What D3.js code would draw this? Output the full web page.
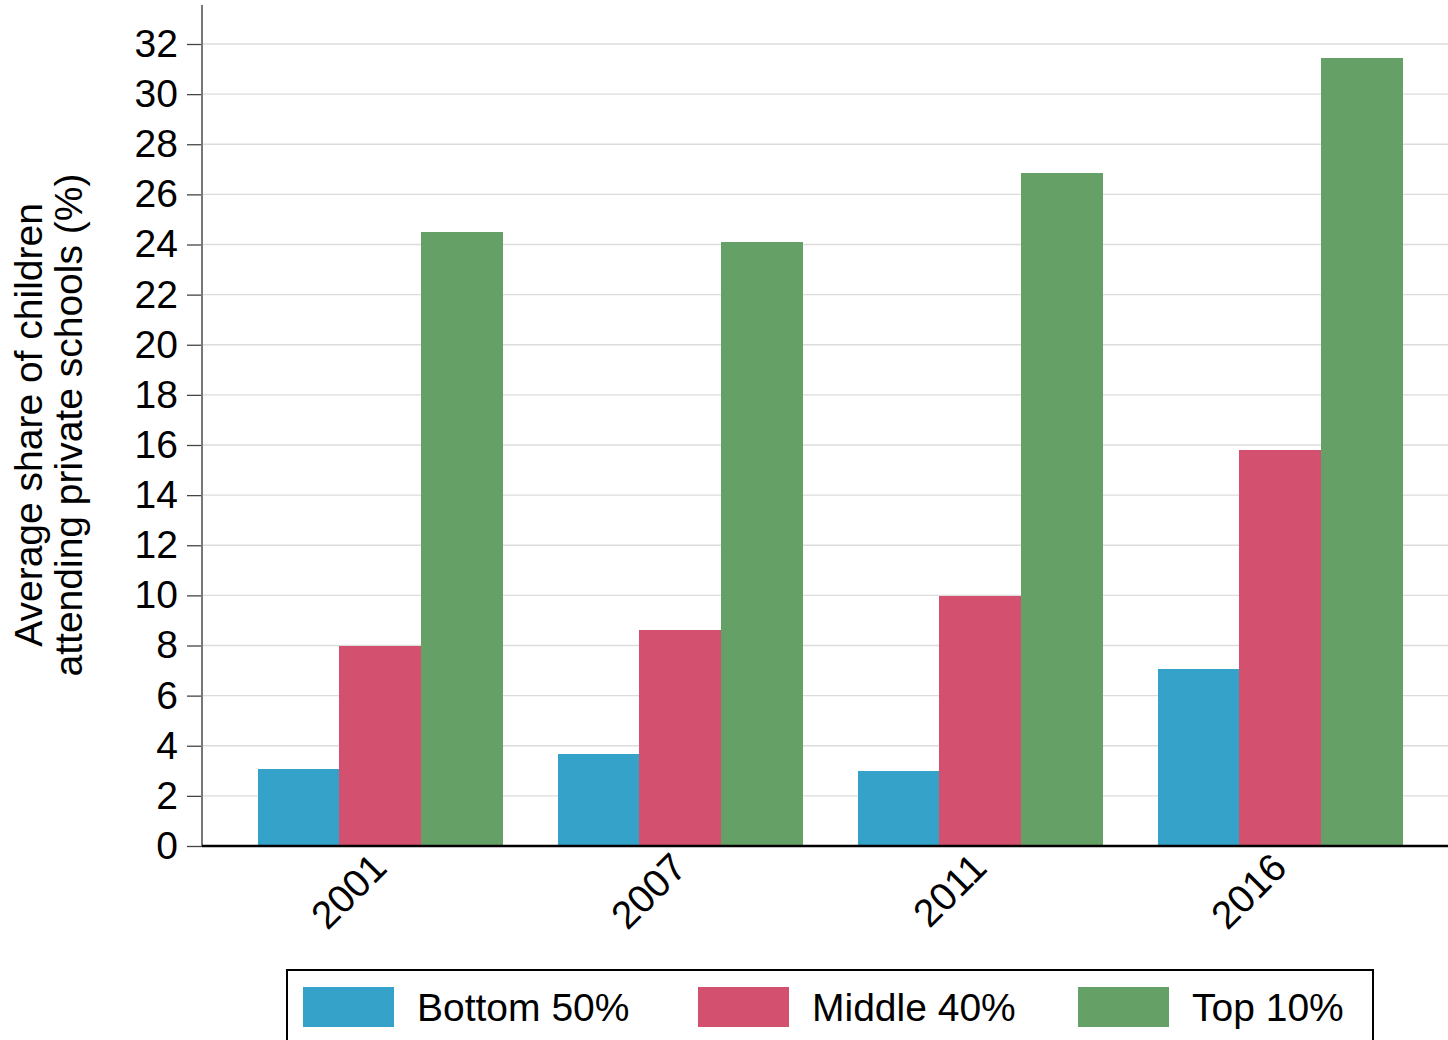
<!DOCTYPE html>
<html>
<head>
<meta charset="utf-8">
<script src="https://cdn.jsdelivr.net/npm/d3@7"></script>
<style>
  html, body { margin: 0; padding: 0; background: #fff; }
  svg { display: block; font-family: "Liberation Sans", Arial, sans-serif; }
</style>
</head>
<body>
<svg id="chart" width="1448" height="1040"></svg>
<script>
const years = ["2001", "2007", "2011", "2016"];
const seriesNames = ["Bottom 50%", "Middle 40%", "Top 10%"];
const bottom50 = [3.07, 3.67, 3.0, 7.06];
const middle40 = [7.98, 8.62, 9.99, 15.8];
const top10 = [24.5, 24.1, 26.86, 31.44];
const yTicks = [0, 2, 4, 6, 8, 10, 12, 14, 16, 18, 20, 22, 24, 26, 28, 30, 32];
const colors = ["#35a2c9", "#d3506e", "#65a066"];

const seriesValues = [bottom50, middle40, top10];
const data = years.map((y, i) => ({
  year: y,
  values: seriesNames.map((s, j) => ({ key: s, value: seriesValues[j][i], color: colors[j] }))
}));

const svg = d3.select("#chart");
const plotLeft = 202, plotRight = 1448, plotTop = 5, plotBottom = 846;
const FS = 39;

const y = d3.scaleLinear().domain([0, 32]).range([plotBottom, 44]);
const x0 = d3.scaleBand().domain(years).range([229, 1429]).padding(0);
const x1 = d3.scaleBand().domain(seriesNames).range([28.5, 273.5]).padding(0);

// gridlines
svg.append("g")
  .selectAll("line")
  .data(yTicks.filter(d => d > 0))
  .join("line")
  .attr("x1", plotLeft).attr("x2", plotRight)
  .attr("y1", d => y(d)).attr("y2", d => y(d))
  .attr("stroke", "#dcdcdc").attr("stroke-width", 1.3);

// bars
const groups = svg.append("g")
  .selectAll("g")
  .data(data)
  .join("g")
  .attr("transform", d => `translate(${x0(d.year)},0)`);

groups.selectAll("rect")
  .data(d => d.values)
  .join("rect")
  .attr("x", d => x1(d.key))
  .attr("width", x1.bandwidth())
  .attr("y", d => y(d.value))
  .attr("height", d => plotBottom - y(d.value))
  .attr("fill", d => d.color)
  .attr("shape-rendering", "crispEdges");

// y axis
const yAxis = d3.axisLeft(y).tickValues(yTicks).tickSize(15).tickPadding(9);
const yg = svg.append("g").attr("transform", `translate(${plotLeft},0)`).call(yAxis);
yg.select(".domain").remove();
yg.selectAll(".tick line").attr("stroke", "#444").attr("stroke-width", 1.3);
yg.selectAll(".tick text").attr("font-size", FS).attr("fill", "#000")
  .attr("font-family", "Liberation Sans, Arial, sans-serif");
svg.append("line")
  .attr("x1", plotLeft).attr("x2", plotLeft)
  .attr("y1", plotTop).attr("y2", plotBottom)
  .attr("stroke", "#777").attr("stroke-width", 2);

// x axis baseline
svg.append("line")
  .attr("x1", plotLeft).attr("x2", plotRight)
  .attr("y1", plotBottom).attr("y2", plotBottom)
  .attr("stroke", "#000").attr("stroke-width", 2.5);

// x tick labels
const xAxis = d3.axisBottom(x0).tickSize(0).tickPadding(0);
const xg = svg.append("g").attr("transform", `translate(0,${plotBottom})`).call(xAxis);
xg.select(".domain").remove();
xg.selectAll(".tick text")
  .attr("font-size", FS).attr("fill", "#000")
  .attr("font-family", "Liberation Sans, Arial, sans-serif")
  .attr("text-anchor", "end")
  .attr("dy", null)
  .attr("y", 0)
  .attr("transform", "translate(0,14) rotate(-45) translate(0,14)");

// y axis title
const yTitle = svg.append("text")
  .attr("transform", "translate(47,425) rotate(-90)")
  .attr("text-anchor", "middle")
  .attr("font-size", FS)
  .attr("fill", "#000");
yTitle.append("tspan").attr("x", 0).attr("dy", "-0.12em").text("Average share of children");
yTitle.append("tspan").attr("x", 0).attr("dy", "1.03em").text("attending private schools (%)");

// legend
const legend = svg.append("g");
legend.append("rect")
  .attr("x", 287).attr("y", 970).attr("width", 1086).attr("height", 90)
  .attr("fill", "#fff").attr("stroke", "#000").attr("stroke-width", 2);
const legendX = [303, 698, 1078];
const li = legend.selectAll("g.item")
  .data(seriesNames)
  .join("g")
  .attr("class", "item")
  .attr("transform", (d, i) => `translate(${legendX[i]},987)`);
li.append("rect").attr("width", 91).attr("height", 40).attr("fill", (d, i) => colors[i]);
li.append("text").attr("x", 114).attr("y", 34).attr("font-size", FS).attr("fill", "#000").text(d => d);
</script>
</body>
</html>
